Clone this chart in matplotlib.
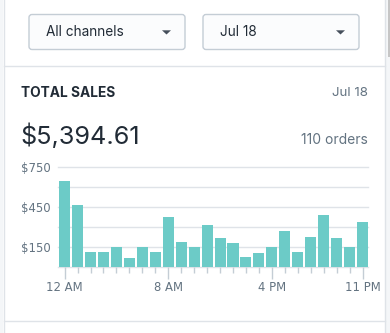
import matplotlib
matplotlib.use("Agg")
import matplotlib.pyplot as plt
from matplotlib.patches import FancyBboxPatch, Polygon, Rectangle
import numpy as np

plt.rcParams['font.family'] = ['Inter', 'DejaVu Sans']

# ---- data ----
hours = list(range(24))
sales = [640, 467, 115, 115, 152, 70, 152, 115, 377, 190, 152, 317,
         220, 182, 77, 107, 152, 272, 115, 227, 392, 220, 152, 340]
tick_hours = [0, 8, 16, 23]
tick_labels = ["12 AM", "8 AM", "4 PM", "11 PM"]
y_grid = [0, 150, 300, 450, 600, 750]
y_labels = [150, 450, 750]
channel_label = "All channels"
date_label = "Jul 18"
title = "TOTAL SALES"
total = "$5,394.61"
orders = "110 orders"

W, H = 390, 333
fig = plt.figure(figsize=(W / 100, H / 100), dpi=100)
fig.patch.set_facecolor("white")

# overlay axes in pixel coords (y from top)
bg = fig.add_axes([0, 0, 1, 1])
bg.set_xlim(0, W)
bg.set_ylim(H, 0)
bg.axis("off")

DARK = "#212b36"
GRAY = "#637381"
LINE = "#dfe3e8"

# side strips and borders
bg.add_patch(Rectangle((0, 0), 3, H, color="#f4f6f8", lw=0))
bg.add_patch(Rectangle((385, 0), 5, H, color="#f4f6f8", lw=0))
bg.add_patch(Rectangle((387.5, 0), 2.5, 57, color="#c6c6c6", lw=0))
bg.plot([3.5, 3.5], [0, H], color=LINE, lw=1)
bg.plot([385, 385], [0, H], color=LINE, lw=1)
bg.plot([3.5, 385], [65.5, 65.5], color=LINE, lw=1)
bg.plot([3.5, 385], [320.5, 320.5], color=LINE, lw=1)

# dropdowns
for x0, x1, label in [(29, 185, channel_label), (203, 359, date_label)]:
    bg.add_patch(FancyBboxPatch((x0, 14.5), x1 - x0, 35,
                                boxstyle="round,pad=0,rounding_size=3",
                                fc="#fbfcfd", ec="#c4cdd5", lw=1))
    bg.text(x0 + 16.5, 32.5, label, fontsize=9.8, color=DARK,
            ha="left", va="center")
    cx = x1 - 18.5
    bg.add_patch(Polygon([[cx - 4.5, 30.3], [cx + 4.5, 30.3], [cx, 34.5]],
                         closed=True, fc="#454f5b", ec="none"))

# header texts
bg.text(21, 93, title, fontsize=9.9, fontweight="bold", color=DARK,
        ha="left", va="center")
bg.text(367.5, 93, date_label, fontsize=9.6, color=GRAY,
        ha="right", va="center")
bg.text(20.5, 136.5, total, fontsize=18.2, color=DARK, ha="left", va="center")
bg.text(367.5, 140, orders, fontsize=10, color=GRAY, ha="right", va="center")

# chart axes
left_px, right_px, top_px, bottom_px = 57.5, 367.7, 166.7, 267.3
ax = fig.add_axes([left_px / W, 1 - bottom_px / H,
                   (right_px - left_px) / W, (bottom_px - top_px) / H])
ax.set_facecolor("none")
ax.bar(hours, sales, width=0.85, color="#6ccbc7", zorder=3)
ax.set_xlim(-0.55, 23.4)
ax.set_ylim(0, 750)
for g in y_grid:
    ax.axhline(g, color=LINE, lw=1, zorder=1, clip_on=False)
for s in ax.spines.values():
    s.set_visible(False)
ax.set_yticks(y_labels)
ax.set_yticklabels([f"${v}" for v in y_labels], family=["DejaVu Sans"])
ax.tick_params(axis="y", length=0, pad=5, labelsize=8.4, labelcolor=GRAY)
ax.set_xticks(tick_hours)
ax.set_xticklabels(tick_labels, family=["DejaVu Sans"])
ax.set_xticks(hours, minor=True)
ax.tick_params(axis="x", which="major", length=8.5, width=1, color="#c4cdd5",
               labelsize=8.4, labelcolor=GRAY, pad=1.5)
ax.tick_params(axis="x", which="minor", length=4, width=1, color="#c4cdd5")

fig.savefig("out.png", dpi=100, facecolor="white")
